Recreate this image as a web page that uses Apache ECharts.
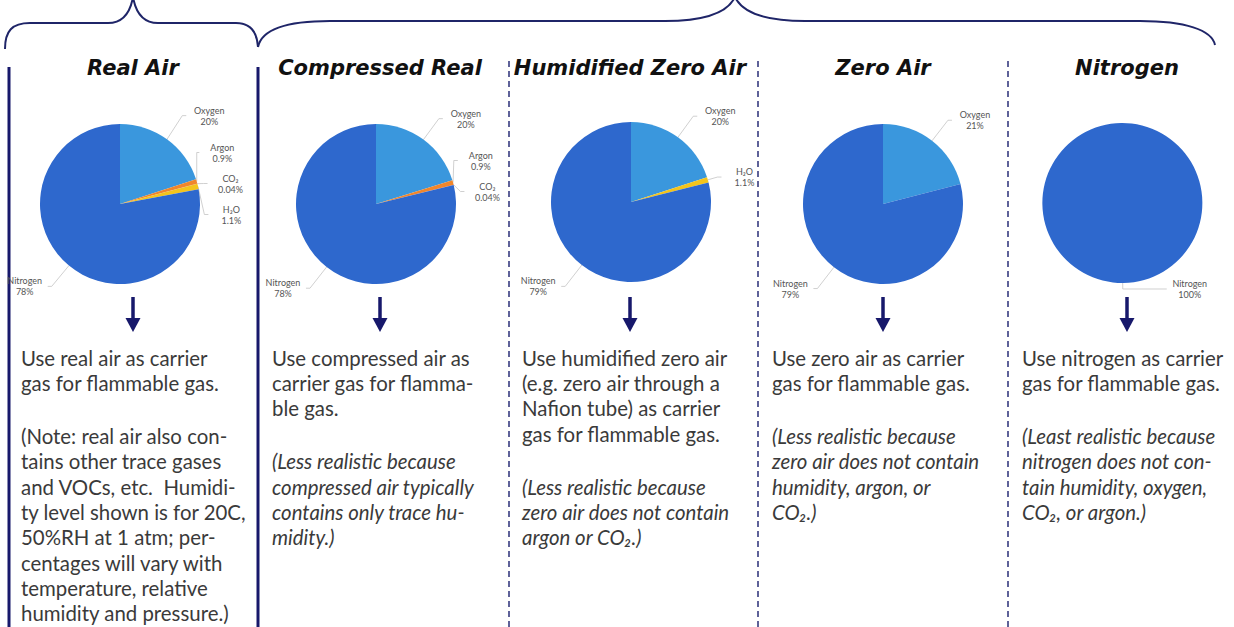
<!DOCTYPE html>
<html>
<head>
<meta charset="utf-8">
<script src="https://cdn.jsdelivr.net/npm/echarts@6/dist/echarts.min.js"></script>
<style>
html,body{margin:0;padding:0;background:#fff;}
#chart{width:1234px;height:627px;}
</style>
</head>
<body>
<div id="chart"></div>
<script>
// ---------- DATA ----------
const panelTitles = ['Real Air', 'Compressed Real', 'Humidified Zero Air', 'Zero Air', 'Nitrogen'];

const realAirGases = ['Oxygen', 'Argon', 'CO₂', 'H₂O', 'Nitrogen'];
const realAirPct = [20, 0.9, 0.04, 1.1, 78];

const compressedGases = ['Oxygen', 'Argon', 'CO₂', 'Nitrogen'];
const compressedPct = [20, 0.9, 0.04, 78];

const humidifiedGases = ['Oxygen', 'H₂O', 'Nitrogen'];
const humidifiedPct = [20, 1.1, 79];

const zeroAirGases = ['Oxygen', 'Nitrogen'];
const zeroAirPct = [21, 79];

const nitrogenGases = ['Nitrogen'];
const nitrogenPct = [100];

const usageText = [
  'Use real air as carrier\ngas for flammable gas.',
  'Use compressed air as\ncarrier gas for flamma-\nble gas.',
  'Use humidified zero air\n(e.g. zero air through a\nNafion tube) as carrier\ngas for flammable gas.',
  'Use zero air as carrier\ngas for flammable gas.',
  'Use nitrogen as carrier\ngas for flammable gas.'
];
const noteText = [
  '(Note: real air also con-\ntains other trace gases\nand VOCs, etc.  Humidi-\nty level shown is for 20C,\n50%RH at 1 atm; per-\ncentages will vary with\ntemperature, relative\nhumidity and pressure.)',
  '(Less realistic because\ncompressed air typically\ncontains only trace hu-\nmidity.)',
  '(Less realistic because\nzero air does not contain\nargon or CO₂.)',
  '(Less realistic because\nzero air does not contain\nhumidity, argon, or\nCO₂.)',
  '(Least realistic because\nnitrogen does not con-\ntain humidity, oxygen,\nCO₂, or argon.)'
];
const noteItalic = [false, true, true, true, true];

// ---------- STYLE / LAYOUT ----------
const gasColors = {
  'Oxygen': '#3a97dd',
  'Argon': '#f0862b',
  'CO₂': '#e0492a',
  'H₂O': '#f3c41c',
  'Nitrogen': '#2e68cd'
};
const leaderLen = { 'Oxygen': 26, 'Nitrogen': 27 };
const panelCenters = [133, 380, 630, 883, 1127];
const pieCenters = [[120, 204], [376, 204], [631, 202], [883, 204], [1122, 203]];
const labelAreaHeight = [230, 207, 627, 627, 627];
const textLeft = [21, 272, 522, 772, 1022];
const navy = '#17186b';
const bodyFont = 'Lato, "Open Sans", sans-serif';
const lineH = 25.3;

const pieSets = [
  [realAirGases, realAirPct],
  [compressedGases, compressedPct],
  [humidifiedGases, humidifiedPct],
  [zeroAirGases, zeroAirPct],
  [nitrogenGases, nitrogenPct]
];

const series = pieSets.map(function (set, i) {
  const names = set[0], vals = set[1];
  const single = vals.length === 1;
  return {
    type: 'pie',
    left: 0, top: 0, width: 1234, height: labelAreaHeight[i],
    center: pieCenters[i],
    radius: [0, 80],
    startAngle: single ? 90.5 : 90,
    clockwise: true,
    silent: true,
    animation: false,
    avoidLabelOverlap: true,
    itemStyle: { borderWidth: 0 },
    label: {
      show: true,
      position: 'outside',
      overflow: 'none',
      edgeDistance: 0,
      bleedMargin: 0,
      formatter: '{s|}\n{t|{b}}\n{t|{c}%}\n{s|}',
      rich: {
        t: { width: 36, align: 'center', fontSize: 9, lineHeight: 11, color: '#555', fontFamily: bodyFont },
        s: { lineHeight: 4, fontSize: 3 }
      }
    },
    labelLine: {
      show: true,
      length: 10,
      length2: single ? 44 : 4,
      smooth: false,
      lineStyle: { color: '#c4c4c4', width: 0.8 }
    },
    emphasis: { disabled: true },
    data: names.map(function (n, k) {
      const item = { name: n, value: vals[k], itemStyle: { color: gasColors[n] } };
      if (!single && leaderLen[n]) item.labelLine = { length: leaderLen[n] };
      if (single) item.labelLine = { length: 6 };
      return item;
    })
  };
});

// ---------- GRAPHICS ----------
const graphics = [];
const braceStyle = { fill: 'none', stroke: '#1f2568', lineWidth: 2 };
function bez(p0, c1, c2, p1) {
  graphics.push({ type: 'bezierCurve', silent: true,
    shape: { x1: p0[0], y1: p0[1], cpx1: c1[0], cpy1: c1[1], cpx2: c2[0], cpy2: c2[1], x2: p1[0], y2: p1[1] },
    style: braceStyle });
}
function seg(p0, p1, style) {
  graphics.push({ type: 'line', silent: true,
    shape: { x1: p0[0], y1: p0[1], x2: p1[0], y2: p1[1] }, style: style || braceStyle });
}
// brace 1
bez([5, 49], [5, 31], [12, 23], [30, 23]);
seg([30, 23], [108, 23]);
bez([108, 23], [122, 23], [130, 14], [133, -3]);
bez([133, -3], [136, 14], [144, 23], [158, 23]);
seg([158, 23], [236, 23]);
bez([236, 23], [250, 23], [257, 31], [258, 47]);
// brace 2
bez([258, 47], [262, 28], [290, 21], [330, 21]);
seg([330, 21], [665, 21]);
bez([665, 21], [705, 21], [728, 12], [735, -3]);
bez([735, -3], [742, 12], [765, 21], [805, 21]);
seg([805, 21], [1140, 21]);
bez([1140, 21], [1185, 21], [1212, 30], [1215, 45]);

// separators
[9, 258].forEach(function (x) {
  seg([x, 67], [x, 627], { stroke: navy, lineWidth: 3 });
});
[509, 758, 1008].forEach(function (x) {
  seg([x, 61], [x, 627], { stroke: '#2a2f78', lineWidth: 1.5, lineDash: [6, 4] });
});
// titles, arrows, text
panelTitles.forEach(function (t, i) {
  const cx = panelCenters[i];
  graphics.push({ type: 'text', silent: true,
    style: { text: t, x: cx, y: 68, align: 'center', verticalAlign: 'middle',
      font: 'italic bold 21px "DejaVu Sans", sans-serif', fill: '#111' } });
  seg([cx, 297], [cx, 321], { stroke: navy, lineWidth: 3.5 });
  graphics.push({ type: 'polygon', silent: true,
    shape: { points: [[cx - 7.5, 318], [cx + 7.5, 318], [cx, 332]] },
    style: { fill: navy } });
  const top1 = 345;
  graphics.push({ type: 'text', silent: true,
    style: { text: usageText[i], x: textLeft[i], y: top1, verticalAlign: 'top',
      font: '20.4px ' + bodyFont, lineHeight: lineH, fill: '#3a3a3a' } });
  const n1 = usageText[i].split('\n').length;
  graphics.push({ type: 'text', silent: true,
    style: { text: noteText[i], x: textLeft[i], y: top1 + (n1 + 1) * lineH + 2.5, verticalAlign: 'top',
      font: (noteItalic[i] ? 'italic ' : '') + '20.4px ' + bodyFont, lineHeight: lineH, fill: '#3a3a3a' } });
});

const chart = echarts.init(document.getElementById('chart'), null, { renderer: 'svg', width: 1234, height: 627 });
chart.setOption({
  backgroundColor: '#ffffff',
  animation: false,
  series: series,
  graphic: graphics
});
</script>
</body>
</html>
